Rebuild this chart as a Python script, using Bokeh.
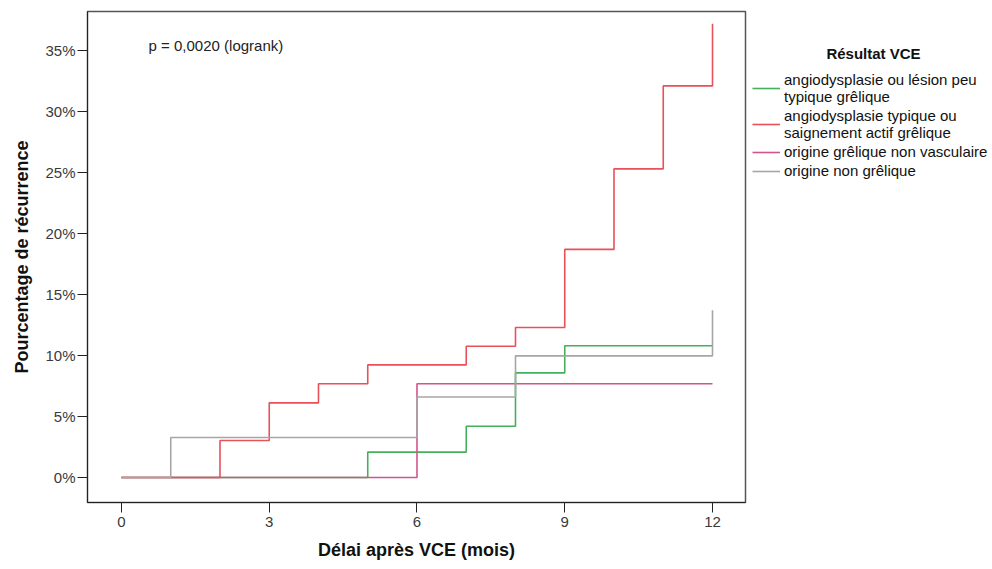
from bokeh.plotting import figure
from bokeh.layouts import row
from bokeh.models import Legend, LegendItem, PrintfTickFormatter, FixedTicker, Range1d, Label
from bokeh.embed import file_html
from bokeh.resources import INLINE

# ---- data (cumulative recurrence, %) ----
green_t = [0, 5, 7, 8, 9, 12]
green_y = [0, 2.08, 4.2, 8.58, 10.8, 10.8]
red_t = [0, 2, 3, 4, 5, 7, 8, 9, 10, 11, 12]
red_y = [0, 3.03, 6.12, 7.68, 9.23, 10.76, 12.3, 18.7, 25.3, 32.1, 37.2]
mag_t = [0, 6, 12]
mag_y = [0, 7.68, 7.68]
gray_t = [0, 1, 6, 8, 12]
gray_y = [0, 3.28, 6.6, 9.97, 13.7]

labels = [
    "angiodysplasie ou lésion peu\ntypique grêlique",
    "angiodysplasie typique ou\nsaignement actif grêlique",
    "origine grêlique non vasculaire",
    "origine non grêlique",
]
legend_title = "Résultat VCE"
colors = ["#45b05c", "#e8505a", "#d0558a", "#a6a6a6"]
x_ticks = [0, 3, 6, 9, 12]
y_ticks = [0, 5, 10, 15, 20, 25, 30, 35]
p_text = "p = 0,0020 (logrank)"

FONT = "Liberation Sans"

p = figure(width=750, height=564, output_backend="svg", toolbar_location=None,
           x_range=Range1d(-0.69, 12.67), y_range=Range1d(-2.05, 38.2),
           min_border_left=87, min_border_right=5, min_border_top=11,
           min_border_bottom=62)
p.xgrid.visible = False
p.ygrid.visible = False
p.outline_line_color = "#555555"
p.outline_line_width = 1.5
p.background_fill_color = "white"
p.border_fill_color = "white"

series = [(green_t, green_y), (red_t, red_y), (mag_t, mag_y), (gray_t, gray_y)]
for (t, y), c in zip(series, colors):
    p.step(t, y, mode="after", line_color=c, line_width=1.6)

# axes
p.xaxis.ticker = FixedTicker(ticks=x_ticks)
p.yaxis.ticker = FixedTicker(ticks=y_ticks)
p.yaxis.formatter = PrintfTickFormatter(format="%d%%")
for ax in (p.xaxis[0], p.yaxis[0]):
    ax.major_tick_out = 10
    ax.major_tick_in = 0
    ax.minor_tick_out = 0
    ax.minor_tick_in = 0
    ax.axis_line_color = "#222222"
    ax.major_tick_line_color = "#222222"
    ax.major_label_text_font = FONT
    ax.major_label_text_font_size = "15px"
    ax.major_label_text_color = "#3a3a3a"
    ax.axis_label_text_font = FONT
    ax.axis_label_text_font_size = "18px"
    ax.axis_label_text_font_style = "bold"
    ax.axis_label_text_color = "#111111"
p.xaxis.axis_label = "Délai après VCE (mois)"
p.yaxis.axis_label = "Pourcentage de récurrence"
p.xaxis.major_label_standoff = 4
p.yaxis.major_label_standoff = 2
p.xaxis.axis_label_standoff = 10
p.yaxis.axis_label_standoff = 10

p.add_layout(Label(x=0.55, y=35.4, text=p_text, text_font=FONT, text_font_size="15px",
                   text_baseline="middle", text_color="#222222"))

# ---- legend panel (frame aligned with main frame; data ranges placed so the
#      series renderers used for the legend swatches fall outside the view) ----
p2 = figure(width=240, height=564, output_backend="svg", toolbar_location=None,
            x_range=Range1d(1000, 1240), y_range=Range1d(502, 11),
            min_border=0, outline_line_color=None)
p2.axis.visible = False
p2.grid.visible = False
p2.border_fill_color = "white"

swatches = [p2.step(t, y, mode="after", line_color=c, line_width=1.6)
            for (t, y), c in zip(series, colors)]
legend = Legend(items=[LegendItem(label=l, renderers=[r]) for l, r in zip(labels, swatches)],
                location=(2, 323))
legend.label_text_font = FONT
legend.label_text_font_size = "15px"
legend.label_text_line_height = 0.85
legend.label_text_color = "#111111"
legend.glyph_width = 28
legend.glyph_height = 16
legend.label_height = 16
legend.label_standoff = 4
legend.spacing = 2
legend.padding = 0
legend.margin = 0
legend.border_line_color = None
legend.background_fill_alpha = 0
p2.add_layout(legend, "center")

p2.add_layout(Label(x=1123, y=53, text=legend_title, text_font=FONT, text_font_size="15px",
                    text_font_style="bold", text_align="center", text_baseline="middle",
                    text_color="#111111"))

open("out.html", "w").write(file_html(row(p, p2), INLINE))
